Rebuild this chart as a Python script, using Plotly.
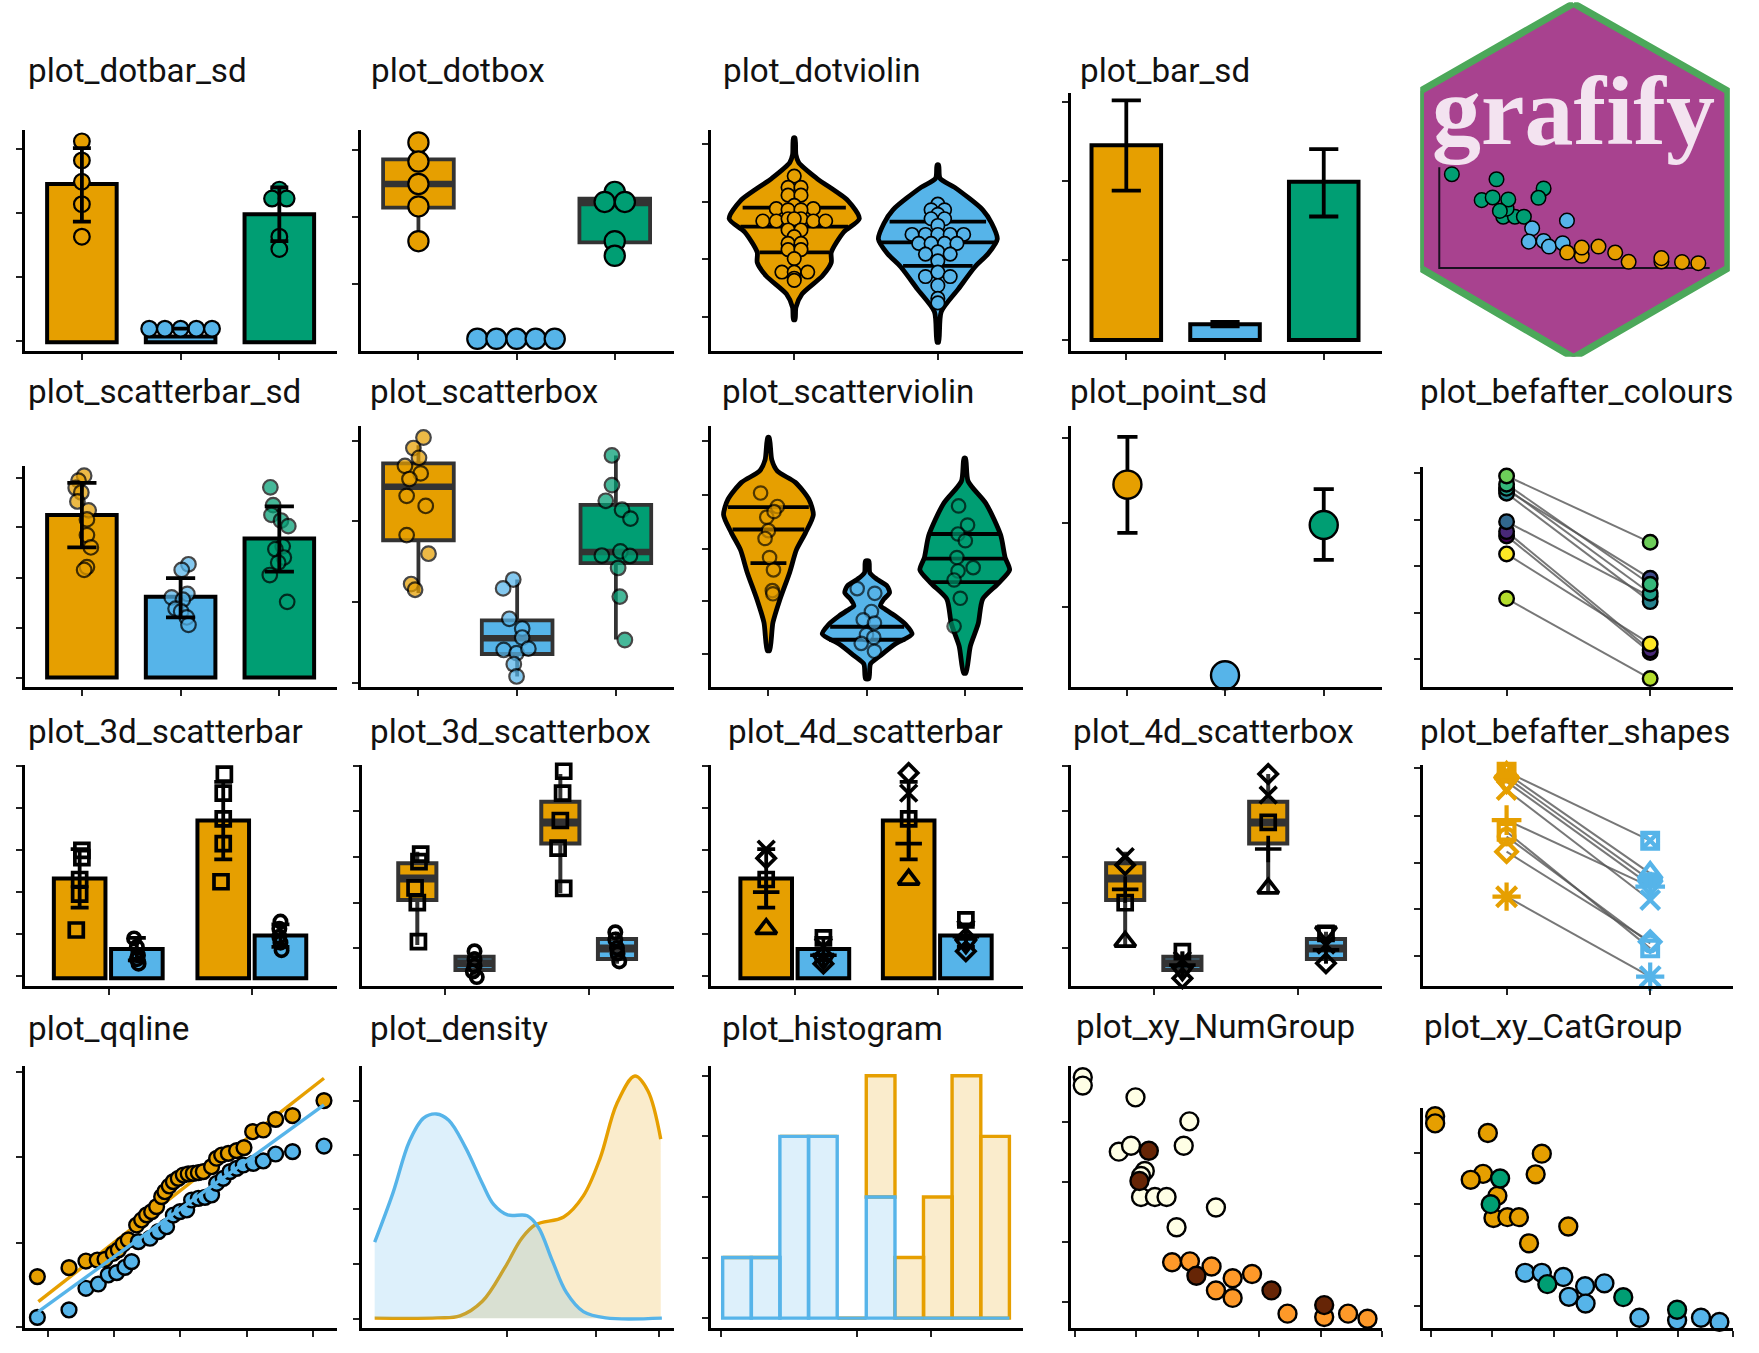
import plotly.graph_objects as go

# ---------- palette ----------
ORANGE, BLUE, GREEN = "#E69F00", "#56B4E9", "#009E73"
WIDTH, HEIGHT = 1759, 1353
S = 1759 / 1568  # one panel unit in page pixels

# ---------- data ----------
TITLES = ["plot_dotbar_sd", "plot_dotbox", "plot_dotviolin", "plot_bar_sd",
          "plot_scatterbar_sd", "plot_scatterbox", "plot_scatterviolin", "plot_point_sd", "plot_befafter_colours",
          "plot_3d_scatterbar", "plot_3d_scatterbox", "plot_4d_scatterbar", "plot_4d_scatterbox", "plot_befafter_shapes",
          "plot_qqline", "plot_density", "plot_histogram", "plot_xy_NumGroup", "plot_xy_CatGroup"]

# plot_dotbar_sd
dotbar_means = [141, 5, 114]
dotbar_low = [107.5, 12, 90]
dotbar_high = [173, 12, 138]
dotbar_a = [179, 162, 143, 123, 94]
dotbar_b = [12, 12, 12, 12, 12]
dotbar_b_dx = [-28, -14, 0, 14, 28]
dotbar_c = [136, 128, 128, 94, 83]
dotbar_c_dx = [0, -6.5, 6.5, 0, 0]

# plot_dotbox
dotbox_a = [175, 158, 138, 118, 87]
dotbox_b = [0, 0, 0, 0, 0]
dotbox_b_dx = [-35, -18, 0, 17, 34]
dotbox_c = [131, 122, 122, 87, 74]
dotbox_c_dx = [0, -9, 9, 0, 0]
dotbox_stats = [(117, 138, 160, 87, 175), (0, 0, 0, 0, 0), (86, 121, 125, 74, 131)]

# plot_dotviolin
dv_a_level = [160, 145, 138, 124, 104, 88, 76, 58, 49, 37, 21, 9, -2]
dv_a_dens = [0.7, 1.5, 4, 20, 48, 58, 44, 33, 33, 25, 7, 1.5, 0.7]
dv_b_level = [136, 124, 116, 96, 84, 70, 57, 45, 25, 5, -22]
dv_b_dens = [0.7, 2, 15, 40, 48, 53, 45, 33, 18, 3, 0.7]
dv_a_quart = [98, 81, 58]
dv_a_quart_w = [46, 48, 31]
dv_b_quart = [85.5, 67, 46]
dv_b_quart_w = [43, 53, 31]
dv_a_y = [126, 116, 116, 109, 109, 97, 100, 97, 96, 96, 86, 86, 88, 88, 86, 86, 88, 78, 78, 72, 66, 66, 58.5, 60.5, 60.5,
          52.5, 40.5, 40.5, 40.5, 35, 33]
dv_a_dx = [0, -5.5, 6, -5.5, 6, -16, 0, 17, -5.5, 6, -28, -16, -5.5, 6, 17, 28, 0, -5.5, 6, 0, -5.5, 6, 0, -5.5, 6,
           0, -11, 0, 12, 0, 0]
dv_b_y = [101, 96, 96, 92, 88, 88, 82, 74, 74, 74, 74, 74, 66, 66, 66, 66, 58.5, 56.5, 56.5, 50.5, 36.5, 40.5, 36.5,
          28.5, 17, 13]
dv_b_dx = [0, -6, 6, 0, -6, 6, 0, -23, -11, 0, 11, 23, -17, -6, 6, 17, 0, -11, 11, 0, -11, 0, 11, 0, 0, 0]

# plot_bar_sd
bar_means = [173.5, 14, 141]
bar_low = [133, 12, 110]
bar_high = [213.5, 16, 170]

# logo scatter
logo_hex_x = [119.7, 257.2, 257.2, 119.7, -16.8, -16.8, 119.7]
logo_hex_y = [235.9, 157.9, 0, -79.8, 0, 157.9, 235.9]
logo_g_x = [11.2, 51, 93, 88.4, 37.8, 47.6, 57, 67.4, 75.4, 60, 61.5, 54]
logo_g_y = [83.7, 79.2, 71, 62.7, 60.6, 63, 45.8, 45.8, 45.8, 53, 61.2, 51]
logo_b_x = [113.8, 82.8, 79.8, 93, 97.8, 110]
logo_b_y = [42.3, 35.5, 23.6, 24.2, 19.2, 22.2]
logo_o_x = [127, 114, 127, 141.9, 156.8, 168.8, 198, 198, 216.4, 230.9]
logo_o_y = [11, 13.9, 18.3, 19.2, 13.9, 5.6, 5.9, 8.9, 5.3, 4.4]

# plot_scatterbar_sd
sb_means = [145, 72, 124]
sb_low = [116, 53.6, 94.5]
sb_high = [173.6, 88.6, 152.6]
sb_a_y = [180, 175.6, 169, 165, 157, 149, 141, 127, 116, 98.5, 96]
sb_a_dx = [2, -3, -5.5, -0.5, -4, 6, 4.5, 4.5, 8, 4.5, 2]
sb_b_y = [101, 96, 71.5, 74.6, 69.5, 61.5, 59, 53.6, 47]
sb_b_dx = [7, 1, -8, 6, 2, -4.5, 0.5, 5.5, 7]
sb_c_y = [169.6, 153.7, 145, 140, 135, 117, 114.4, 107, 102.5, 91.4, 67.5]
sb_c_dx = [-8, -5.5, -7, 1.5, 8, 3, -3.5, 4, -1, -8.5, 7]

# plot_scatterbox
sx_stats = [(127.4, 175, 196, 80.5, 212), (26, 40, 56, 6, 92.4), (107, 117, 159, 39, 203)]
sx_a_y = [219, 209.6, 200.9, 193.7, 187, 182, 167, 158, 132, 115.4, 88.4, 83.3]
sx_a_dx = [4.5, -4.5, 0.5, -12, 2, -8, -10.5, 6.5, -10.5, 9, -6.5, -3]
sx_b_y = [92.4, 84.5, 57.4, 48.7, 40.7, 29.6, 26.8, 30.8, 16.9, 6]
sx_b_dx = [-3.5, -12.5, -7, 4.5, 4.5, -12, -0.5, 10, -3, -0.5]
sx_c_y = [203, 176.6, 162.6, 154.6, 146.7, 113.8, 117.4, 113.4, 102.7, 77.2, 38.5]
sx_c_dx = [-3.5, -3.5, -9, 5.5, 13, -12.5, 4, 12.5, 2, 3.5, 8]

# plot_scatterviolin
sv_a_level = [193, 173, 163, 153, 138, 124, 108, 93, 73, 48, 28, 3]
sv_a_dens = [0.7, 3, 8, 24, 36, 40, 33, 25, 19, 10, 4, 1]
sv_b_level = [82.8, 72.5, 66.5, 60.6, 54.7, 48.8, 42.9, 40, 34, 26.6, 17.8, 8.9, -1.4, -8.8, -22]
sv_b_dens = [1.5, 2.4, 8.9, 17.7, 20, 14.8, 11.8, 16, 25, 34, 40, 25, 11.8, 3, 1.5]
sv_c_level = [174.5, 154, 134, 106, 86, 75, 63, 49, 27, 7, -17]
sv_c_dens = [0.7, 3, 19, 32, 36, 40, 30, 16, 12, 5, 1]
sv_a_quart, sv_a_quart_w = [131, 111, 81], [36, 32, 16]
sv_b_quart, sv_b_quart_w = [24.3, 12.7], [33, 34]
sv_c_quart, sv_c_quart_w = [107, 85, 64], [33, 36, 30]
sv_a_y = [143.5, 131.5, 122, 127, 110, 103, 86, 75, 56.5, 53.7]
sv_a_dx = [-7, 8, -1.5, 5, 0, -3, 1, 4.5, 3.5, 4]
sv_b_y = [58.3, 54.1, 37.9, 30.5, 27.6, 17.2, 14.8, 9.5, 2.4]
sv_b_dx = [-8.9, 6.8, 3.8, -3.5, 6.5, -0.6, 5.9, -5.3, 6.5]
sv_c_y = [132, 115, 107, 101, 86, 77, 74, 66, 49.7, 24.7]
sv_c_dx = [-5.5, 2.5, -6, 0.5, -7, 7.5, -6, -9.5, -4, -9.5]

# plot_point_sd
pt_means = [184, 14, 148]
pt_low = [141, 14, 117]
pt_high = [226.5, 14, 180]

# plot_befafter_colours (subjects in colour order)
ba_before = [136.3, 140.1, 177.3, 149, 174.3, 178.7, 182.3, 189.7, 80.4, 120.2]
ba_after = [32.3, 34.6, 98.5, 82.2, 77.7, 85.2, 93.2, 130.6, 9.1, 40]
ba_subject_colours = ["#440154", "#482878", "#3E4A89", "#31688E", "#26828E", "#1F9E89", "#35B779", "#6DCD59", "#B4DE2C", "#FDE725"]

# 3d / 4d panels
d3_means = [89, 26, 140.5, 38]
d3_low = [63, 16, 106, 28]
d3_high = [115, 36, 175, 48]
d3_box_stats = [(67.7, 87, 100.4, 27.6, 110.8), (5.3, 11.3, 17.2, 0, 22), (118.2, 136.9, 155.4, 73.7, 180), (15.1, 24.6, 33, 11, 39.5)]
d3_g1 = [114, 107.5, 88, 75, 43]
d3_g1_dx = [2, 2, 0, 0, -3]
d3_g2 = [35.5, 28, 20.5, 13, 17]
d3_g2_dx = [-2.5, 0, 1, 1.5, 0]
d3_g3 = [182, 165, 142, 120, 86]
d3_g3_dx = [1, 0, 0, 0, -2]
d3_g4 = [50.5, 44, 37, 31.7, 25]
d3_g4_dx = [0, -1, -1, 0, 1]
dx3_g1 = [108.6, 102, 78.6, 65.4, 30.6]
dx3_g1_dx = [3, 1.5, -2, 0, 1]
dx3_g2 = [22, 15, 9, 4, -1]
dx3_g2_dx = [0, 0, 0, -1.5, 2]
dx3_g3 = [182.5, 163, 138.6, 114, 78]
dx3_g3_dx = [3, 2, 0, -2, 3]
dx3_g4 = [39, 32.5, 25, 20, 13]
dx3_g4_dx = [-1.5, -1.5, 0, 0.5, 2]
d4_g1 = [115, 107, 88, 76.7, 44]
d4_g2 = [36, 28, 20.5, 17, 13]
d4_g3 = [165, 183, 142, 120, 88]
d4_g4 = [52, 44, 37, 31, 24]
dx4_g1 = [106.3, 98.9, 65.3, 77.2, 30.6]
dx4_g2 = [21.7, 14.2, 9.8, 5, -2.1]
dx4_g3 = [161.3, 180, 136.9, 113.2, 78.1]
dx4_g4 = [38, 27.6, 23.2, 39.5, 11.3]

# plot_befafter_shapes
bs_before = [192.1, 190.6, 187, 183.2, 175.8, 149, 138.6, 134.2, 120.8, 80.7]
bs_after = [130.6, 101.5, 95.5, 91, 77.7, 89.6, 34.6, 39, 40.6, 9.4]

# plot_qqline
qq_a_x = [33.3, 61.5, 76.6, 86.7, 93.6, 101, 105.5, 109.9, 114.4, 121.8, 126.3, 130.7, 135.2, 139.6, 144.1, 147, 150.9,
          154.5, 158.9, 163.4, 167.8, 172.3, 176.8, 181.2, 188.6, 193.1, 197.6, 203.5, 210.9, 217.5, 225.2, 234.7, 245.7,
          260.8, 288.8]
qq_a_y = [48, 56, 61.9, 62.8, 63.4, 68.8, 71.8, 77.1, 80.7, 94, 98.5, 103, 105.9, 110.4, 119.3, 123.7, 128.8, 132.7, 135.6,
          138.6, 139.5, 140.1, 140.7, 141.6, 146, 153.5, 156.4, 157.9, 160.3, 163, 177.2, 178.7, 188.2, 191.5, 204.9]
qq_b_x = [33.3, 61.5, 76.6, 87.6, 96.5, 104, 111.4, 117.3, 123.3, 133.7, 141.1, 148.5, 154.5, 160.4, 166.4, 170.8, 176.8,
          182.7, 188.6, 193.1, 199, 205, 210.9, 216.9, 225.8, 234.7, 245.7, 260.8, 288.8]
qq_b_y = [11.7, 18.3, 37.6, 41.4, 49.5, 51.6, 56.3, 61.4, 79.2, 82.2, 88.1, 92.5, 102.9, 105.9, 107.4, 116.3, 117.8, 118.7,
          120.8, 131.2, 135.6, 141.6, 144.5, 147.5, 149, 151.1, 157.3, 159.4, 164.4]
qq_a_line_x, qq_a_line_y = [34.2, 288.8], [25.7, 224.8]
qq_b_line_x, qq_b_line_y = [34.2, 288.8], [16.8, 201]

# plot_density
den_b_x = [334, 350, 365, 377.5, 389, 400, 415, 430, 440, 452.5, 470, 480, 492.5, 505, 520, 540, 590]
den_b_y = [67.7, 110.8, 157.7, 178.3, 182, 176.5, 152, 120, 101.4, 92, 91.3, 80.8, 50.8, 22.7, 5.8, 0.2, 0]
den_a_x = [334, 390, 410, 430, 450, 465, 477.5, 502.5, 520, 535, 550, 566, 577.5, 589]
den_a_y = [0, 0.2, 2, 15, 45, 71, 83.4, 90.2, 109, 142.7, 191.5, 215.8, 202.7, 159.6]

# plot_histogram
hist_centres = [657, 682.5, 708, 733.5, 759.5, 785, 810.5, 836, 861.5, 887]
hist_a = [0, 0, 0, 0, 0, 2, 1, 2, 4, 3]
hist_b = [1, 1, 3, 3, 0, 2, 0, 0, 0, 0]

# plot_xy_NumGroup
xn_cream_x = [965.2, 965.2, 1012.2, 1060.2, 997.3, 1008.2, 1055.2, 1020.5, 1017.1, 1017.1, 1029.5, 1039.9, 1083.9, 1048.8]
xn_cream_y = [225.8, 218.3, 207.8, 186.4, 159.4, 164.7, 164.7, 142.2, 137.7, 119, 119, 119, 109.6, 92]
xn_brown_x = [1024.1, 1015.7, 1066.5, 1133.4, 1180.4]
xn_brown_y = [160.2, 133.2, 48.8, 35.7, 22.6]
xn_orange_x = [1044.8, 1060.7, 1080, 1098.8, 1116.1, 1083.9, 1098.8, 1147.7, 1180.4, 1201.7, 1219]
xn_orange_y = [60.8, 61.6, 57, 46.6, 50.3, 35.7, 29, 15, 12, 15, 10.5]

# plot_xy_CatGroup
xc_o_x = [1279.3, 1279.3, 1326.3, 1374.4, 1368.9, 1322, 1311, 1334.8, 1331.3, 1343.7, 1354, 1398, 1363]
xc_o_y = [191, 184.6, 176, 157.6, 139.2, 139.6, 134.3, 120, 100.2, 101, 101, 92.7, 77.7]
xc_g_x = [1337.2, 1328.8, 1379.3, 1447, 1495]
xc_g_y = [135.5, 112.6, 41.3, 29.7, 18.5]
xc_b_x = [1359.5, 1374.4, 1393.6, 1413, 1430.2, 1398.5, 1413.4, 1461.4, 1495, 1516.3, 1532.7]
xc_b_y = [51.4, 51.4, 47.7, 39.5, 42, 30, 24, 11.3, 9, 11.3, 7.6]

SYMS4 = ["x-thin-open", "diamond-open", "square-open", "cross-thin-open", "triangle-up-open"]
SYMS4B = ["square-open", "x-thin-open", "cross-thin-open", "triangle-down-open", "diamond-open"]
SHAPES = ["square-x-open", "triangle-up-open", "hash-open", "triangle-down-open", "x-thin-open",
          "cross-thin-open", "square-open", "circle-open", "diamond-open", "asterisk-open"]
SYMBOL_SCALE = {"triangle-up-open": 1.3, "triangle-down-open": 1.3, "x-thin-open": 1.2, "cross-thin-open": 1.35,
                "asterisk-open": 1.5}

# ---------- panel frames: left, right, top, bottom, zero level, y unit, x ticks, y ticks ----------
PANELS = [
    (21, 300, 116, 314, 305, 1, [73, 161, 249], [172, 115, 58, 1]),
    (320, 601, 116, 314, 302, 1, [373, 460.5, 548], [168, 108.5, 48.5]),
    (632, 912, 116, 314, 283, 1, [708, 836], [155, 103, 52, 0]),
    (953, 1232, 83, 314, 303, 1, [1004, 1092, 1180], [212, 142, 71, 0]),
    (21, 300, 415, 614, 604, 1, [73, 161, 249], [178, 134, 89, 44.5, 0]),
    (320, 601, 380, 614, 609, 1, [373, 461, 549], [216, 145, 72.5, 0]),
    (632, 912, 380, 614, 583, 1, [685, 773, 860], [189.6, 142, 94, 47.3, 0]),
    (953, 1232, 380, 614, 616, 1, [1005, 1092, 1180], [225.4, 150, 75]),
    (1267, 1545, 416, 614, 614, 1, [1343, 1471], [192, 150.5, 109.5, 68, 27]),
    (21, 300, 682, 880, 872, 1, [97, 225], [189, 152, 114, 77, 39, 2]),
    (321, 601, 682, 880, 870, 1, [397, 525], [187, 147, 106, 65, 25]),
    (632, 912, 682, 880, 872, 1, [709, 836], [189, 152, 114, 77, 39, 2]),
    (953, 1232, 682, 880, 870, 1, [1029, 1157], [187, 147, 106, 65, 25]),
    (1267, 1545, 682, 880, 880, 1, [1343, 1471], [195, 153, 111, 70, 28]),
    (21, 300, 950, 1185, 1186, 1, [43, 102, 160.7, 219.8, 278.7], [230.4, 154.3, 78.3, 3.4]),
    (321, 601, 950, 1185, 1175, 1, [452, 531, 587], [194, 145, 97, 48, -1]),
    (632, 912, 950, 1185, 1175, 54, [643, 764, 830], [0, 1, 2, 3, 4]),
    (953, 1232, 950, 1185, 1186, 1, [958, 1013, 1068, 1122, 1178, 1232], [186, 132, 79, 25]),
    (1267, 1545, 988, 1185, 1186, 1, [1276, 1330, 1385, 1441, 1496, 1545], [158, 112.6, 66.4, 21.4]),
]
LOGO = (1266, 1542, 2, 318)
TITLE_POS = [(23, 63), (329, 63), (643, 63), (961, 63),
             (23, 349), (328, 349), (642, 349), (952, 349), (1264, 349),
             (23, 652), (328, 652), (647, 652), (955, 652), (1264, 652),
             (23, 917), (328, 917), (642, 917), (957, 915), (1268, 915)]
AXIS_INSET = 1.5  # the axis line sits outside the plotting area

fig = go.Figure()


def ax(i):
    return ("x", "y") if i == 1 else (f"x{i}", f"y{i}")


def put(i, tr):
    xa, ya = ax(i)
    tr.update(xaxis=xa, yaxis=ya, showlegend=False, hoverinfo="skip")
    if tr.type == "scatter":
        tr.update(cliponaxis=False)
    fig.add_trace(tr)


def bars(i, cx, vals, cols, w):
    put(i, go.Bar(x=cx, y=vals, width=w, marker=dict(color=cols, line=dict(color="black", width=4))))


def err(i, cx, mean, low, high, cap, thick=3.8):
    put(i, go.Scatter(x=cx, y=mean, mode="markers", marker=dict(size=1, opacity=0),
                      error_y=dict(type="data", symmetric=False,
                                   array=[h - m for h, m in zip(high, mean)],
                                   arrayminus=[m - l for m, l in zip(mean, low)],
                                   width=cap * S / 2, thickness=thick, color="black")))


def dots(i, c, dx, y, col, d=14, opacity=1.0, lw=2.2):
    put(i, go.Scatter(x=[c + a for a in dx], y=y, mode="markers",
                      marker=dict(size=d * S, color=col, opacity=opacity, line=dict(color="black", width=lw))))


def pts(i, x, y, col, d=16, lw=2.4):
    put(i, go.Scatter(x=x, y=y, mode="markers",
                      marker=dict(size=d * S, color=col, line=dict(color="black", width=lw))))


def box(i, c, st, col, w, lw=3.8, med=6.5):
    q1, m, q3, lo, hi = st
    put(i, go.Box(x=[c], q1=[q1], median=[m], q3=[q3], lowerfence=[lo], upperfence=[hi], width=w, whiskerwidth=0,
                  fillcolor=col, line=dict(color="#333333", width=lw), marker=dict(opacity=0), boxpoints=False))
    put(i, go.Scatter(x=[c - w / 2, c + w / 2], y=[m, m], mode="lines", line=dict(color="#333333", width=med)))


def violin(i, c, level, dens, col, q, qw):
    xs = [c - d for d in dens] + [c + d for d in reversed(dens)] + [c - dens[0]]
    ys = list(level) + list(reversed(level)) + [level[0]]
    put(i, go.Scatter(x=xs, y=ys, mode="lines", fill="toself", fillcolor=col,
                      line=dict(color="black", width=4.8, shape="spline", smoothing=0.7)))
    for a, b in zip(q, qw):
        put(i, go.Scatter(x=[c - b, c + b], y=[a, a], mode="lines", line=dict(color="black", width=3.8)))


def shapes(i, c, dx, y, syms, col="black", d=12.5, lw=3.7):
    if isinstance(syms, str):
        syms = [syms] * len(y)
    sizes = [d * S * SYMBOL_SCALE.get(s, 1) for s in syms]
    put(i, go.Scatter(x=[c + a for a in dx], y=y, mode="markers",
                      marker=dict(size=sizes, symbol=syms, color=col, opacity=1, line=dict(color=col, width=lw))))


def befaft(i, c, before, after, cols=None, syms=None):
    for b, a in zip(before, after):
        put(i, go.Scatter(x=c, y=[b, a], mode="lines", line=dict(color="rgba(85,85,85,0.8)", width=2)))
    if cols:
        for vals, xx in [(before, c[0]), (after, c[1])]:
            put(i, go.Scatter(x=[xx] * len(vals), y=vals, mode="markers",
                              marker=dict(size=13 * S, color=cols, line=dict(color="black", width=2.4))))
    else:
        shapes(i, c[0], [0] * len(before), before, syms, ORANGE, 14, 4.2)
        shapes(i, c[1], [0] * len(after), after, syms, BLUE, 14, 4.2)


# ---------- row 1 ----------
c = PANELS[0][6]
bars(1, c, dotbar_means, [ORANGE, BLUE, GREEN], 62)
dots(1, c[0], [0] * 5, dotbar_a, ORANGE)
dots(1, c[1], dotbar_b_dx, dotbar_b, BLUE)
dots(1, c[2], dotbar_c_dx, dotbar_c, GREEN)
err(1, c, dotbar_means, dotbar_low, dotbar_high, 16)

c = PANELS[1][6]
box(2, c[0], dotbox_stats[0], ORANGE, 63)
box(2, c[1], dotbox_stats[1], BLUE, 63)
box(2, c[2], dotbox_stats[2], GREEN, 63)
dots(2, c[0], [0] * 5, dotbox_a, ORANGE, 18)
dots(2, c[1], dotbox_b_dx, dotbox_b, BLUE, 18)
dots(2, c[2], dotbox_c_dx, dotbox_c, GREEN, 18)

c = PANELS[2][6]
violin(3, c[0], dv_a_level, dv_a_dens, ORANGE, dv_a_quart, dv_a_quart_w)
violin(3, c[1], dv_b_level, dv_b_dens, BLUE, dv_b_quart, dv_b_quart_w)
dots(3, c[0], dv_a_dx, dv_a_y, ORANGE, 12, lw=1.7)
dots(3, c[1], dv_b_dx, dv_b_y, BLUE, 12, lw=1.7)

c = PANELS[3][6]
bars(4, c, bar_means, [ORANGE, BLUE, GREEN], 62)
err(4, c, bar_means, bar_low, bar_high, 26)

# ---------- row 2 ----------
c = PANELS[4][6]
bars(5, c, sb_means, [ORANGE, BLUE, GREEN], 62)
dots(5, c[0], sb_a_dx, sb_a_y, ORANGE, 13, 0.72)
dots(5, c[1], sb_b_dx, sb_b_y, BLUE, 13, 0.72)
dots(5, c[2], sb_c_dx, sb_c_y, GREEN, 13, 0.72)
err(5, c, sb_means, sb_low, sb_high, 26)

c = PANELS[5][6]
for k, col in enumerate([ORANGE, BLUE, GREEN]):
    box(6, c[k], sx_stats[k], col, 63)
dots(6, c[0], sx_a_dx, sx_a_y, ORANGE, 13, 0.72)
dots(6, c[1], sx_b_dx, sx_b_y, BLUE, 13, 0.72)
dots(6, c[2], sx_c_dx, sx_c_y, GREEN, 13, 0.72)

c = PANELS[6][6]
violin(7, c[0], sv_a_level, sv_a_dens, ORANGE, sv_a_quart, sv_a_quart_w)
violin(7, c[1], sv_b_level, sv_b_dens, BLUE, sv_b_quart, sv_b_quart_w)
violin(7, c[2], sv_c_level, sv_c_dens, GREEN, sv_c_quart, sv_c_quart_w)
dots(7, c[0], sv_a_dx, sv_a_y, ORANGE, 12, 0.65)
dots(7, c[1], sv_b_dx, sv_b_y, BLUE, 12, 0.65)
dots(7, c[2], sv_c_dx, sv_c_y, GREEN, 12, 0.65)

c = PANELS[7][6]
err(8, c, pt_means, pt_low, pt_high, 18)
pts(8, c, pt_means, [ORANGE, BLUE, GREEN], 25)

befaft(9, PANELS[8][6], ba_before, ba_after, cols=ba_subject_colours)

# ---------- row 3 ----------
X3 = [71, 122, 199, 250]
G34 = [ORANGE, BLUE, ORANGE, BLUE]
bars(10, X3, d3_means, G34, 46)
err(10, X3, d3_means, d3_low, d3_high, 16)
shapes(10, X3[0], d3_g1_dx, d3_g1, "square-open")
shapes(10, X3[1], d3_g2_dx, d3_g2, "circle-open", d=11)
shapes(10, X3[2], d3_g3_dx, d3_g3, "square-open")
shapes(10, X3[3], d3_g4_dx, d3_g4, "circle-open", d=11)

BX3 = [372, 423, 499.5, 550]
for k, col in enumerate(G34):
    box(11, BX3[k], d3_box_stats[k], col, 34, 4, 8)
shapes(11, BX3[0], dx3_g1_dx, dx3_g1, "square-open")
shapes(11, BX3[1], dx3_g2_dx, dx3_g2, "circle-open", d=11)
shapes(11, BX3[2], dx3_g3_dx, dx3_g3, "square-open")
shapes(11, BX3[3], dx3_g4_dx, dx3_g4, "circle-open", d=11)

X4 = [683, 734, 810, 861]
bars(12, X4, d3_means, G34, 46)
err(12, X4, d3_means, d3_low, d3_high, 16)
shapes(12, X4[0], [0] * 5, d4_g1, SYMS4)
shapes(12, X4[1], [0] * 5, d4_g2, SYMS4B)
shapes(12, X4[2], [0] * 5, d4_g3, SYMS4)
shapes(12, X4[3], [0] * 5, d4_g4, SYMS4B)

BX4 = [1003, 1054, 1130.5, 1182]
for k, col in enumerate(G34):
    box(13, BX4[k], d3_box_stats[k], col, 34, 4, 8)
shapes(13, BX4[0], [0] * 5, dx4_g1, SYMS4)
shapes(13, BX4[1], [0] * 5, dx4_g2, SYMS4B)
shapes(13, BX4[2], [0] * 5, dx4_g3, SYMS4)
shapes(13, BX4[3], [0] * 5, dx4_g4, SYMS4B)

befaft(14, PANELS[13][6], bs_before, bs_after, syms=SHAPES)

# ---------- row 4 ----------
put(15, go.Scatter(x=qq_a_line_x, y=qq_a_line_y, mode="lines", line=dict(color=ORANGE, width=3.4)))
pts(15, qq_a_x, qq_a_y, ORANGE, 13.2)
pts(15, qq_b_x, qq_b_y, BLUE, 13.2)
put(15, go.Scatter(x=qq_b_line_x, y=qq_b_line_y, mode="lines", line=dict(color=BLUE, width=3.4)))

put(16, go.Scatter(x=den_a_x, y=den_a_y, mode="lines", fill="tozeroy", fillcolor="rgba(230,159,0,0.2)",
                   line=dict(color=ORANGE, width=3.4, shape="spline")))
put(16, go.Scatter(x=den_b_x, y=den_b_y, mode="lines", fill="tozeroy", fillcolor="rgba(86,180,233,0.2)",
                   line=dict(color=BLUE, width=3.4, shape="spline")))

put(17, go.Bar(x=hist_centres, y=hist_a, base=hist_b, width=25.6, marker=dict(color="rgba(230,159,0,0.2)", line=dict(color=ORANGE, width=3.4))))
put(17, go.Bar(x=hist_centres, y=hist_b, width=25.6, marker=dict(color="rgba(86,180,233,0.2)", line=dict(color=BLUE, width=3.4))))

pts(18, xn_cream_x, xn_cream_y, "#FFFFE5")
pts(18, xn_orange_x, xn_orange_y, "#FE9929")
pts(18, xn_brown_x, xn_brown_y, "#662506")

pts(19, xc_o_x, xc_o_y, ORANGE)
pts(19, xc_b_x, xc_b_y, BLUE)
pts(19, xc_g_x, xc_g_y, GREEN)

# ---------- logo ----------
put(20, go.Scatter(x=logo_hex_x, y=logo_hex_y, mode="lines", fill="toself", fillcolor="#A8428F",
                   line=dict(color="#4CA85A", width=7)))
put(20, go.Scatter(x=[0, 0, 241], y=[90, 0, 0], mode="lines", line=dict(color="#1a1020", width=2)))
pts(20, logo_g_x, logo_g_y, GREEN, 13, 1.5)
pts(20, logo_b_x, logo_b_y, BLUE, 13, 1.5)
pts(20, logo_o_x, logo_o_y, ORANGE, 13, 1.5)

# ---------- layout ----------
layout = dict(width=WIDTH, height=HEIGHT, margin=dict(l=0, r=0, t=0, b=0), paper_bgcolor="white", plot_bgcolor="rgba(0,0,0,0)",
              barmode="overlay", boxmode="overlay", font=dict(family="Roboto", color="black"), showlegend=False)
DH = HEIGHT / S
for k, (l, r, t, b, y0, unit, xt, yt) in enumerate(PANELS, start=1):
    xn = "xaxis" if k == 1 else f"xaxis{k}"
    yn = "yaxis" if k == 1 else f"yaxis{k}"
    ya = ax(k)[1]
    xa = ax(k)[0]
    lv = l + AXIS_INSET
    bv = b - AXIS_INSET
    base = dict(showgrid=False, zeroline=False, showline=True, linecolor="black", linewidth=3.2, ticks="outside",
                ticklen=6, tickwidth=2.4, tickcolor="#222222", showticklabels=False, fixedrange=True)
    layout[xn] = dict(base, domain=[lv * S / WIDTH, r * S / WIDTH], range=[lv, r], tickmode="array", tickvals=xt, anchor=ya)
    layout[yn] = dict(base, domain=[1 - bv / DH, 1 - t / DH], range=[(y0 - bv) / unit, (y0 - t) / unit], tickmode="array",
                      tickvals=yt, anchor=xa)
l, r, t, b = LOGO
layout["xaxis20"] = dict(visible=False, domain=[l * S / WIDTH, r * S / WIDTH], range=[-17, 259], anchor="y20", fixedrange=True)
layout["yaxis20"] = dict(visible=False, domain=[1 - b / DH, 1 - t / DH], range=[-79, 237], anchor="x20", fixedrange=True)

annos = [dict(text=txt, x=p[0] * S / WIDTH, y=1 - p[1] / DH, xref="paper", yref="paper", xanchor="left", yanchor="middle",
              showarrow=False, font=dict(family="Roboto", size=33.2, color="#111111"))
         for txt, p in zip(TITLES, TITLE_POS)]
annos.append(dict(text="<b>grafify</b>", x=1403 * S / WIDTH, y=1 - 99 / DH, xref="paper", yref="paper", xanchor="center", yanchor="middle",
                  showarrow=False, font=dict(family="Liberation Serif", size=98, color="#F3E3F0")))
layout["annotations"] = annos
fig.update_layout(**layout)
fig.write_html("out.html", config={"displayModeBar": False},
               post_script="document.body.style.margin='0';document.body.style.overflow='hidden';")
